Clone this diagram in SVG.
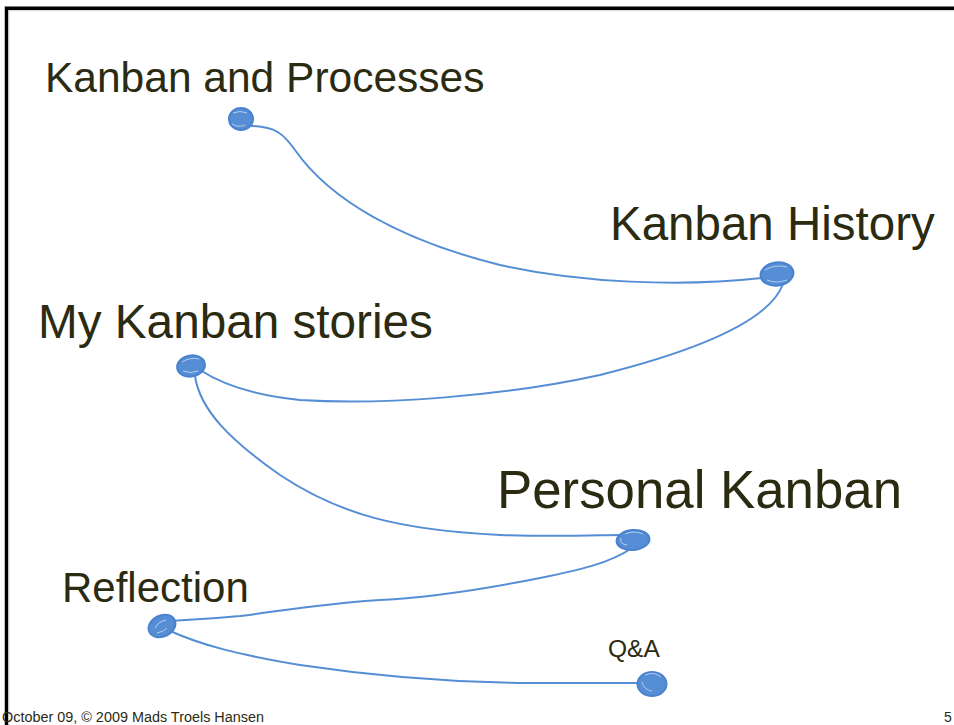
<svg xmlns="http://www.w3.org/2000/svg" width="954" height="725" viewBox="0 0 954 725">
<style>
.t{font-family:"Liberation Sans",Arial,sans-serif;fill:#2b2b12}
.c{fill:none;stroke:#558ed5;stroke-width:2;stroke-linecap:round}
.d{fill:#558ed5;stroke:#4a82cf;stroke-width:2}
.s{fill:none;stroke:#ffffff;stroke-width:0.8;opacity:0.7}
</style>
<rect x="0" y="0" width="954" height="725" fill="#ffffff"/>
<path d="M6.5,725 V8.3 H954" fill="none" stroke="#000000" stroke-width="3.5"/>
<path d="M8.8,725 V10.6 H954" fill="none" stroke="#c8c8c8" stroke-width="0.8"/>
<g id="connectors">
<path class="c" d="M252,126 C275,127 283,133 295,150 C330,200 400,240 500,265 C580,283 680,287 762,278"/>
<path class="c" d="M783,284 C770,320 700,350 600,375 C500,397 380,405 300,400 C250,395 220,383 200,370"/>
<path class="c" d="M195,376 C200,410 230,440 280,475 C340,515 400,530 500,535 C560,537 600,535 620,535"/>
<path class="c" d="M632,548 C610,563 580,570 540,578 C480,590 420,598 380,600 C320,604 280,611 240,616 C200,620 180,620 168,621"/>
<path class="c" d="M168,630 C200,645 240,655 300,665 C380,677 450,682 520,683 L640,683"/>
</g>
<g id="node-processes">
<text class="t" x="45" y="92" font-size="42.5">Kanban and Processes</text>
<ellipse class="d" cx="241" cy="119" rx="12" ry="11"/>
<path class="s" d="M233,113 q7,-3 14,0 M232,124 q6,4 13,1"/>
</g>
<g id="node-history">
<text class="t" x="610" y="240" font-size="47.5">Kanban History</text>
<ellipse class="d" cx="777" cy="274" rx="16.5" ry="11.5" transform="rotate(-8 777 274)"/>
<path class="s" d="M765,270 q10,-6 22,-3 M767,280 q9,4 20,0"/>
</g>
<g id="node-stories">
<text class="t" x="38" y="338" font-size="47.7">My Kanban stories</text>
<ellipse class="d" cx="191" cy="366" rx="14" ry="10.5" transform="rotate(-10 191 366)"/>
<path class="s" d="M182,362 q8,-5 17,-3 M183,371 q8,3 15,0"/>
</g>
<g id="node-personal">
<text class="t" x="497" y="508" font-size="52.8">Personal Kanban</text>
<ellipse class="d" cx="633" cy="540" rx="16.5" ry="10" transform="rotate(-5 633 540)"/>
<path class="s" d="M621,538 q-2,6 6,7 M625,534 q10,-4 18,0"/>
</g>
<g id="node-reflection">
<text class="t" x="62" y="602" font-size="42">Reflection</text>
<ellipse class="d" cx="162" cy="626" rx="14" ry="10.5" transform="rotate(-25 162 626)"/>
<path class="s" d="M155,628 q4,-7 11,-8 M157,633 q6,-1 10,-5"/>
</g>
<g id="node-qa">
<text class="t" x="608" y="657" font-size="24.5">Q&amp;A</text>
<ellipse class="d" cx="652" cy="684" rx="14.5" ry="12"/>
<path class="s" d="M642,682 q2,8 10,9 M645,675 q9,-4 16,2"/>
</g>
<g id="footer">
<text class="t" x="2" y="722" font-size="14" textLength="262" lengthAdjust="spacingAndGlyphs">October 09, © 2009 Mads Troels Hansen</text>
<text class="t" x="944" y="722" font-size="14">5</text>
</g>
</svg>
